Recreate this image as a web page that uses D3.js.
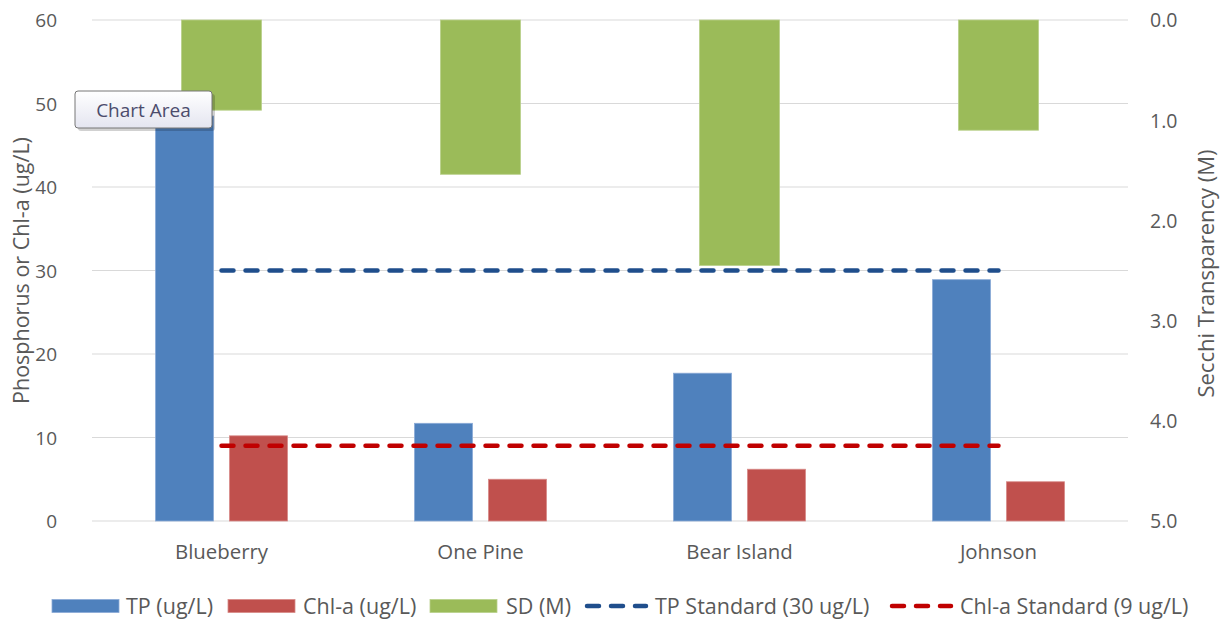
<!DOCTYPE html>
<html>
<head>
<meta charset="utf-8">
<script src="https://cdn.jsdelivr.net/npm/d3@7"></script>
<style>
  html, body { margin: 0; padding: 0; background: #fff; }
  svg { display: block; font-family: "Open Sans", "Noto Sans", sans-serif; }
</style>
</head>
<body>
<svg id="chart" width="1223" height="623"></svg>
<script>
// ---- data ----
const categories = ["Blueberry", "One Pine", "Bear Island", "Johnson"];
const tpValues   = [48.5, 11.7, 17.7, 28.9];
const chlValues  = [10.2, 5.0, 6.2, 4.7];
const sdValues   = [0.90, 1.54, 2.45, 1.10];
const tpStandard  = [30, 30, 30, 30];
const chlStandard = [9, 9, 9, 9];
const leftTicks  = [0, 10, 20, 30, 40, 50, 60];
const rightTicks = [0, 1, 2, 3, 4, 5];
const legendLabels = ["TP (ug/L)", "Chl-a (ug/L)", "SD (M)", "TP Standard (30 ug/L)", "Chl-a Standard (9 ug/L)"];

// ---- layout ----
const svg = d3.select("#chart");
const plot = { left: 92, right: 1128, top: 20, bottom: 521 };
const textColor = "#595959";
const colors = { tp: "#4F81BD", chl: "#C0504D", sd: "#9BBB59", tpStd: "#1F4E8C", chlStd: "#C00000" };

const x = d3.scaleBand().domain(categories).range([plot.left, plot.right]).padding(0);
const inner = d3.scaleBand().domain(["tp", "chl"]).range([0, x.bandwidth()])
  .paddingInner(0.216).paddingOuter(0.858);
const y = d3.scaleLinear().domain([0, 60]).range([plot.bottom, plot.top]);
const y2 = d3.scaleLinear().domain([0, 5]).range([plot.top, plot.bottom]);

// gridlines
svg.append("g").selectAll("line").data(leftTicks).join("line")
  .attr("x1", plot.left).attr("x2", plot.right)
  .attr("y1", d => y(d)).attr("y2", d => y(d))
  .attr("stroke", "#D9D9D9").attr("stroke-width", 1.2);

// left axis
const leftAxis = d3.axisLeft(y).tickValues(leftTicks).tickSize(0).tickPadding(0).tickFormat(d3.format("d"));
const gl = svg.append("g").attr("transform", `translate(${plot.left - 35},0)`).call(leftAxis);
gl.select(".domain").remove();
gl.selectAll("text").attr("fill", textColor).style("font-size", "19px").attr("font-family", "Open Sans").attr("dy", "0.35em");

// right axis
const rightAxis = d3.axisRight(y2).tickValues(rightTicks).tickSize(0).tickPadding(0).tickFormat(d3.format(".1f"));
const gr = svg.append("g").attr("transform", `translate(${plot.right + 22},0)`).call(rightAxis);
gr.select(".domain").remove();
gr.selectAll("text").attr("fill", textColor).style("font-size", "19.5px").attr("font-family", "Open Sans").attr("dy", "0.35em");

// bottom category labels
const bottomAxis = d3.axisBottom(x).tickSize(0).tickPadding(0);
const gb = svg.append("g").attr("transform", `translate(0,${plot.bottom + 31})`).call(bottomAxis);
gb.select(".domain").remove();
gb.selectAll("text").attr("fill", textColor).style("font-size", "20.4px").attr("font-family", "Open Sans").attr("dy", "0.35em");

// axis titles
svg.append("text")
  .attr("transform", `translate(29,${(plot.top + plot.bottom) / 2}) rotate(-90)`)
  .attr("text-anchor", "middle").attr("fill", textColor).style("font-size", "21.5px")
  .text("Phosphorus or Chl-a (ug/L)");
svg.append("text")
  .attr("transform", `translate(1214,${(plot.top + plot.bottom) / 2 + 3}) rotate(-90)`)
  .attr("text-anchor", "middle").attr("fill", textColor).style("font-size", "22px")
  .text("Secchi Transparency (M)");

// SD bars (secondary axis, hanging from top)
const sdWidth = x.bandwidth() * 0.309;
svg.append("g").selectAll("rect").data(categories).join("rect")
  .attr("x", (d) => x(d) + x.bandwidth() / 2 - sdWidth / 2)
  .attr("y", y2(0))
  .attr("width", sdWidth)
  .attr("height", (d, i) => y2(sdValues[i]) - y2(0))
  .attr("fill", colors.sd).attr("stroke", "#B9D08A").attr("stroke-width", 0.8);

// TP bars
svg.append("g").selectAll("rect").data(categories).join("rect")
  .attr("x", d => x(d) + inner("tp"))
  .attr("y", (d, i) => y(tpValues[i]))
  .attr("width", inner.bandwidth())
  .attr("height", (d, i) => y(0) - y(tpValues[i]))
  .attr("fill", colors.tp).attr("stroke", "#8AAAD6").attr("stroke-width", 0.8);

// Chl-a bars
svg.append("g").selectAll("rect").data(categories).join("rect")
  .attr("x", d => x(d) + inner("chl"))
  .attr("y", (d, i) => y(chlValues[i]))
  .attr("width", inner.bandwidth())
  .attr("height", (d, i) => y(0) - y(chlValues[i]))
  .attr("fill", colors.chl).attr("stroke", "#D88A88").attr("stroke-width", 0.8);

// standard lines
const line = d3.line().x(d => x(d.c) + x.bandwidth() / 2).y(d => y(d.v));
const dashStyle = "12,12";
svg.append("path")
  .datum(categories.map((c, i) => ({ c, v: tpStandard[i] })))
  .attr("d", line).attr("fill", "none")
  .attr("stroke", colors.tpStd).attr("stroke-width", 4.5)
  .attr("stroke-dasharray", dashStyle).attr("stroke-linecap", "round");
svg.append("path")
  .datum(categories.map((c, i) => ({ c, v: chlStandard[i] })))
  .attr("d", line).attr("fill", "none")
  .attr("stroke", colors.chlStd).attr("stroke-width", 4.5)
  .attr("stroke-dasharray", dashStyle).attr("stroke-linecap", "round");

// legend
const legendItems = [
  { label: legendLabels[0], type: "rect", color: colors.tp, stroke: "#8AAAD6", x: 52, tx: 126 },
  { label: legendLabels[1], type: "rect", color: colors.chl, stroke: "#D88A88", x: 228, tx: 303 },
  { label: legendLabels[2], type: "rect", color: colors.sd, stroke: "#B9D08A", x: 430, tx: 506 },
  { label: legendLabels[3], type: "line", color: colors.tpStd, x: 584, tx: 655 },
  { label: legendLabels[4], type: "line", color: colors.chlStd, x: 889, tx: 960 }
];
const ly = 606;
const lg = svg.append("g");
legendItems.forEach(it => {
  if (it.type === "rect") {
    lg.append("rect").attr("x", it.x).attr("y", ly - 6.5).attr("width", 67).attr("height", 13)
      .attr("fill", it.color).attr("stroke", it.stroke).attr("stroke-width", 0.8);
  } else {
    lg.append("line").attr("x1", it.x + 3).attr("x2", it.x + 62).attr("y1", ly).attr("y2", ly)
      .attr("stroke", it.color).attr("stroke-width", 4.5)
      .attr("stroke-dasharray", "12,12").attr("stroke-linecap", "round");
  }
  lg.append("text").attr("x", it.tx).attr("y", ly).attr("dy", "0.35em")
    .attr("fill", textColor).style("font-size", "21.5px").text(it.label);
});

// "Chart Area" tooltip
const tip = svg.append("g").attr("transform", "translate(75,91)");
const defs = svg.append("defs");
const grad = defs.append("linearGradient").attr("id", "tipGrad").attr("x1", 0).attr("y1", 0).attr("x2", 0).attr("y2", 1);
grad.append("stop").attr("offset", "0%").attr("stop-color", "#FFFFFF");
grad.append("stop").attr("offset", "100%").attr("stop-color", "#E4E5F0");
tip.append("rect").attr("x", 3).attr("y", 3).attr("width", 137).attr("height", 37).attr("rx", 3)
  .attr("fill", "rgba(0,0,0,0.18)");
tip.append("rect").attr("x", 0).attr("y", 0).attr("width", 137).attr("height", 37).attr("rx", 3)
  .attr("fill", "url(#tipGrad)").attr("stroke", "#767676").attr("stroke-width", 1);
tip.append("text").attr("x", 68.5).attr("y", 19).attr("dy", "0.35em").attr("text-anchor", "middle")
  .attr("fill", "#4C4C6C").style("font-size", "19px").text("Chart Area");
</script>
</body>
</html>
